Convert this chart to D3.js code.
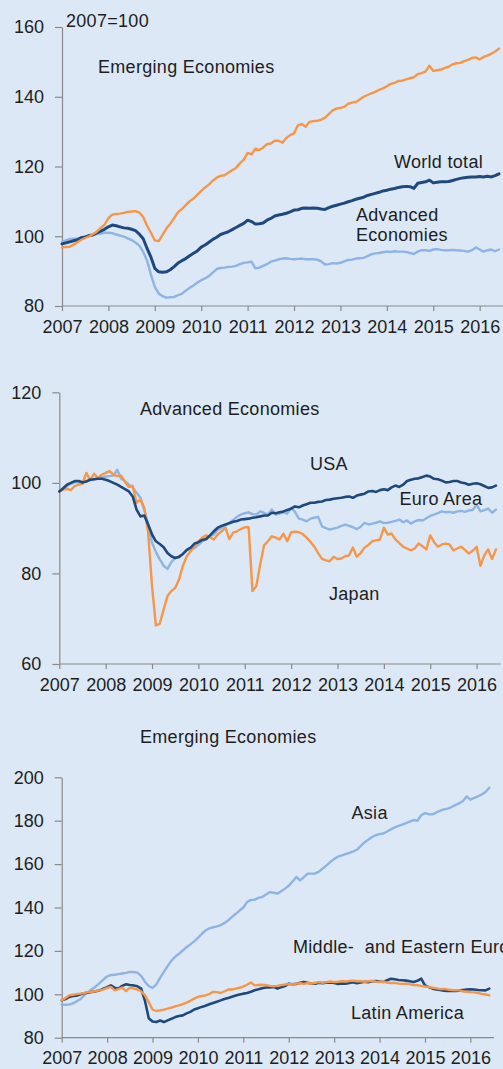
<!DOCTYPE html>
<html>
<head>
<meta charset="utf-8">
<script src="https://cdn.jsdelivr.net/npm/d3@7"></script>
<style>
  html, body { margin: 0; padding: 0; background: #DCE8F6; }
  svg { display: block; }
  text { font-family: "Liberation Sans", Arial, sans-serif; fill: #1e1e1e; }
</style>
</head>
<body>
<svg id="chart" width="503" height="1069"></svg>
<script>
// ---------- Data (monthly, Jan 2007 – Jun 2016, 2007 = 100) ----------
const startYear = 2007;
const yearTicks = [2007, 2008, 2009, 2010, 2011, 2012, 2013, 2014, 2015, 2016];

// Panel 1: World
const emergingTotal = [
  96.8, 96.9, 97.0, 97.6, 98.3, 99.0, 99.5, 100.0, 100.6, 101.3, 102.3, 103.3,
  105.2, 106.2, 106.4, 106.5, 106.7, 107.0, 107.1, 107.2, 106.8, 105.5, 103.0, 101.0,
  98.8, 98.6, 100.4, 102.2, 103.6, 105.2, 106.9, 107.8, 108.9, 110.0, 110.8, 111.9,
  113.0, 114.0, 114.8, 116.0, 116.8, 117.3, 117.5, 118.2, 118.9, 119.6, 120.9, 122.0,
  123.9, 123.5, 125.1, 124.7, 125.4, 126.4, 126.6, 127.4, 127.4, 126.8, 128.2, 129.0,
  129.5, 131.8, 132.2, 131.4, 132.8, 133.0, 133.1, 133.4, 134.0, 135.0, 136.1, 136.6,
  136.8, 137.1, 138.0, 138.3, 138.5, 139.2, 140.0, 140.5, 141.0, 141.4, 142.0, 142.4,
  143.0, 143.7, 144.0, 144.5, 144.6, 145.0, 145.3, 145.6, 146.5, 146.8, 147.2, 148.9,
  147.4, 147.6, 147.8, 148.3, 148.6, 149.3, 149.6, 149.7, 150.2, 150.6, 151.1, 151.3,
  150.7, 151.4, 151.8, 152.3, 153.0, 153.8
];
const worldTotal = [
  97.8, 98.1, 98.4, 98.7, 99.0, 99.6, 99.8, 100.2, 100.4, 101.0, 101.5, 102.0,
  102.7, 103.2, 103.0, 102.7, 102.4, 102.3, 102.0, 101.6, 100.6, 99.3, 96.5, 94.0,
  90.8, 89.8, 89.7, 89.8, 90.4, 91.3, 92.3, 93.0, 93.6, 94.4, 95.1, 95.8,
  96.9, 97.5, 98.3, 99.1, 99.7, 100.5, 100.9, 101.3, 101.9, 102.5, 103.1, 103.7,
  104.6, 104.2, 103.5, 103.6, 103.8, 104.6, 105.1, 105.8, 106.1, 106.3, 106.6, 107.0,
  107.5, 107.6, 108.0, 108.1, 108.0, 108.1, 108.0, 107.8, 107.7, 108.2, 108.6, 108.9,
  109.2, 109.5, 109.9, 110.2, 110.6, 110.9, 111.2, 111.7, 112.0, 112.3, 112.6, 113.0,
  113.2, 113.5, 113.7, 114.0, 114.2, 114.3, 114.2, 113.7, 115.2, 115.4, 115.6, 116.1,
  115.3, 115.5, 115.6, 115.6, 115.7, 116.0, 116.3, 116.6, 116.8, 116.9, 117.0, 117.0,
  117.1, 117.0, 117.2, 117.0, 117.4, 117.9
];
const advancedTotal = [
  98.4, 98.8, 99.2, 99.3, 99.4, 99.6, 99.8, 100.1, 100.3, 100.6, 100.8, 101.0,
  101.0, 100.9, 100.5, 100.2, 99.9, 99.4, 98.9, 98.2, 97.3, 95.5, 93.0, 89.0,
  85.5, 83.6, 82.8, 82.4, 82.5, 82.6, 83.1, 83.5, 84.4, 85.2, 85.9, 86.7,
  87.4, 87.9, 88.6, 89.6, 90.6, 90.9, 91.0, 91.2, 91.3, 91.5, 92.0, 92.4,
  92.5, 92.7, 90.8, 91.0, 91.5, 92.0, 92.7, 93.0, 93.4, 93.6, 93.7, 93.5,
  93.4, 93.5, 93.6, 93.4, 93.4, 93.4, 93.3, 92.8, 91.9, 92.0, 92.3, 92.2,
  92.4, 92.8, 93.2, 93.3, 93.6, 93.7, 93.8, 94.3, 94.8, 95.1, 95.2, 95.4,
  95.6, 95.5, 95.7, 95.6, 95.6, 95.5, 95.2, 94.9, 95.6, 96.0, 96.0, 95.8,
  96.2, 96.3, 96.1, 96.0, 96.0, 96.1, 96.0, 95.9, 95.8, 95.6, 96.0, 96.8,
  96.2, 95.6, 96.0, 96.2, 95.7, 96.2
];

// Panel 2: Advanced Economies
const usa = [
  98.1, 98.8, 99.6, 100.0, 100.4, 100.4, 100.1, 100.3, 100.7, 100.8, 100.9, 100.9,
  100.7, 100.4, 100.0, 99.6, 99.1, 98.6, 98.1, 97.0, 94.1, 92.6, 92.8, 90.8,
  88.6, 87.1, 86.5, 85.8, 84.5, 83.8, 83.4, 83.7, 84.3, 85.2, 85.7, 86.6,
  86.9, 87.4, 87.6, 88.4, 89.3, 90.1, 90.5, 90.8, 91.1, 91.4, 91.6, 91.9,
  92.0, 92.1, 92.3, 92.4, 92.6, 92.8, 92.8, 93.4, 93.3, 93.5, 93.7, 94.0,
  94.3, 94.8, 94.6, 95.0, 95.3, 95.6, 95.6, 95.8, 95.9, 96.2, 96.3, 96.5,
  96.6, 96.7, 96.9, 97.0, 96.7, 97.2, 97.4, 97.6, 98.1, 98.2, 98.0, 98.4,
  98.6, 98.4, 99.0, 99.4, 99.1, 99.6, 100.4, 100.7, 100.9, 101.0, 101.3, 101.6,
  101.4, 100.9, 100.8, 100.5, 100.1, 100.2, 100.4, 100.4, 100.1, 99.9, 99.6, 99.8,
  99.9, 99.7, 99.3, 98.9, 99.0, 99.4
];
const euroArea = [
  98.1, 98.7, 99.3, 99.8, 100.1, 100.2, 100.3, 100.4, 100.6, 100.8, 101.0, 101.2,
  101.4, 101.5, 101.6, 102.9, 100.9, 100.4, 99.6, 99.0, 97.8, 96.7, 94.0, 90.8,
  86.8, 84.7, 83.1, 81.7, 81.0, 82.5, 83.4, 83.5, 84.3, 85.1, 85.3, 85.6,
  86.3, 87.1, 87.5, 88.2, 88.6, 89.6, 90.1, 90.6, 91.2, 91.8, 92.5, 93.0,
  93.3, 93.5, 93.1, 93.0, 93.7, 93.4, 93.0, 94.1, 93.0, 93.2, 93.5, 93.2,
  94.5, 93.6, 92.1, 91.9, 91.5, 92.1, 92.3, 92.5, 90.4, 90.0, 89.7, 89.9,
  90.1, 90.5, 90.8, 90.5, 90.2, 89.8, 90.3, 91.2, 90.8, 91.0, 91.2, 91.5,
  91.1, 91.2, 91.4, 91.6, 91.9, 91.3, 91.7, 91.0, 91.5, 91.8, 91.7, 92.2,
  92.7, 93.0, 93.3, 93.7, 93.5, 93.6, 93.4, 93.7, 93.8, 93.6, 93.9, 94.0,
  95.2, 93.7, 94.0, 94.3, 93.4, 94.1
];
const japan = [
  98.1, 98.5, 98.7, 98.4, 99.3, 99.6, 99.8, 102.2, 100.6, 102.0, 101.1, 101.8,
  102.2, 102.6, 101.8, 101.5, 101.6, 100.2, 99.1, 99.3, 95.6, 96.3, 94.5, 89.0,
  77.2, 68.5, 68.9, 72.0, 75.0, 76.1, 76.8, 78.7, 81.7, 83.8, 84.9, 86.0,
  87.1, 87.9, 88.4, 88.0, 87.5, 88.6, 89.3, 90.1, 87.6, 89.0, 89.3, 89.8,
  90.2, 90.2, 76.1, 77.2, 82.0, 86.2, 87.1, 88.2, 87.9, 87.5, 88.8, 87.1,
  89.1, 89.2, 89.1, 88.7, 87.9, 87.0, 85.9, 84.5, 83.2, 82.9, 82.7, 83.7,
  83.2, 83.3, 83.8, 84.0, 85.7, 83.7, 84.5, 85.7, 86.3, 87.1, 87.3, 87.5,
  90.1, 88.6, 88.8, 87.5, 86.7, 85.9, 85.5, 85.1, 85.5, 86.6, 86.0, 85.3,
  88.4, 86.9, 85.9, 86.4, 86.6, 86.4, 85.1, 85.5, 85.9, 85.2, 84.4, 85.0,
  85.9, 81.7, 84.0, 85.3, 83.2, 85.3
];

// Panel 3: Emerging Economies
const asia = [
  95.2, 95.2, 95.3, 95.8, 96.8, 97.8, 99.6, 101.0, 102.3, 103.6, 105.2, 106.8,
  108.2, 108.9, 109.0, 109.3, 109.6, 109.9, 110.3, 110.3, 110.0, 108.5, 105.8, 103.8,
  102.9, 104.6, 107.6, 110.3, 113.0, 115.5, 117.3, 118.7, 120.2, 121.7, 123.0, 124.4,
  126.0, 127.8, 129.4, 130.4, 130.9, 131.3, 131.9, 132.8, 134.1, 135.7, 137.1, 138.6,
  140.0, 142.5, 143.5, 143.6, 144.4, 144.9, 146.0, 147.1, 146.8, 146.4, 147.5, 148.7,
  150.0, 152.0, 154.1, 152.5, 154.0, 155.6, 155.6, 155.7, 156.5, 158.0, 159.4, 161.0,
  162.4, 163.4, 164.0, 164.6, 165.2, 165.8, 166.6, 168.3, 170.0, 171.2, 172.5, 173.3,
  173.8, 174.1, 175.0, 176.0, 176.9, 177.6, 178.2, 178.9, 179.6, 180.3, 180.0, 182.5,
  183.5, 183.0, 182.9, 183.8, 184.6, 185.2, 185.6, 186.3, 187.2, 188.0, 189.0, 191.2,
  189.7, 190.5, 191.2, 192.1, 193.2, 195.2
];
const middleEasternEurope = [
  97.2, 97.8, 98.8, 99.2, 99.4, 100.0, 100.5, 100.8, 101.1, 101.4, 101.8, 102.6,
  103.3, 104.1, 103.0, 102.6, 103.9, 104.6, 104.3, 104.1, 103.7, 102.6, 97.0, 89.0,
  87.5, 87.2, 87.9, 87.2, 88.0, 88.7, 89.5, 90.0, 90.3, 91.2, 91.9, 93.0,
  93.6, 94.2, 94.7, 95.4, 96.0, 96.6, 97.2, 97.8, 98.3, 98.9, 99.4, 99.9,
  100.3, 100.6, 101.2, 101.9, 102.3, 102.8, 103.1, 103.2, 103.4, 102.6, 103.3, 103.8,
  104.9, 104.6, 104.8, 105.3, 105.7, 105.3, 105.0, 104.9, 105.3, 105.1, 105.5, 105.4,
  105.2, 104.8, 105.0, 104.9, 105.2, 105.6, 105.1, 105.4, 105.8, 105.6, 106.0, 106.1,
  105.9, 105.7, 106.5, 107.2, 106.9, 106.6, 106.5, 106.3, 106.0, 105.7, 106.2, 107.2,
  104.1, 103.3, 102.6, 102.2, 102.0, 101.7, 101.5, 101.6, 101.5, 101.7, 102.0, 102.2,
  102.3, 102.2, 102.0, 101.9, 101.8, 102.6
];
const latinAmerica = [
  97.2, 98.3, 99.5, 99.8, 100.1, 100.3, 100.6, 101.1, 101.2, 101.5, 101.8, 102.3,
  102.9, 103.4, 101.8, 102.4, 103.1, 101.5, 103.1, 102.6, 102.2, 101.4, 99.5, 96.4,
  93.0, 92.3, 92.6, 92.9, 93.4, 93.9, 94.4, 94.9, 95.5, 96.2, 97.0, 98.0,
  98.8, 99.2, 99.5, 100.1, 101.1, 101.0, 100.6, 101.3, 102.2, 102.2, 102.6, 103.0,
  103.7, 104.4, 105.4, 104.1, 104.3, 104.4, 104.2, 103.9, 103.7, 103.9, 104.2, 104.5,
  104.7, 104.6, 104.9, 105.1, 104.8, 105.2, 105.0, 105.3, 105.6, 105.3, 105.6, 105.9,
  105.6, 105.8, 106.1, 105.9, 106.1, 106.3, 106.0, 106.1, 105.8, 106.0, 106.2, 105.8,
  105.7, 105.9, 105.4, 105.2, 105.3, 104.9, 104.8, 104.9, 104.6, 104.3, 104.2, 103.9,
  103.6, 103.4, 103.0, 102.7, 102.4, 102.5, 102.2, 102.0, 101.9, 101.8, 101.4, 101.2,
  101.0, 100.9, 100.6, 100.2, 99.9, 99.5
];

// Colours
const ORANGE = "#F79646";
const DARK = "#1F497D";
const LIGHT = "#8DB4E2";

// ---------- Panels ----------
const panels = [
  {
    x0: 62, x1: 503.8, yTop: 27, yBot: 306,
    yDomain: [80, 160], yTicks: [80, 100, 120, 140, 160],
    series: [
      { values: advancedTotal, color: LIGHT, width: 2.4 },
      { values: worldTotal, color: DARK, width: 3 },
      { values: emergingTotal, color: ORANGE, width: 2.4 }
    ],
    labels: [
      { text: "2007=100", x: 66, y: 27 },
      { text: "Emerging Economies", x: 98, y: 73 },
      { text: "World total", x: 394, y: 168 },
      { text: "Advanced", x: 356, y: 221 },
      { text: "Economies", x: 356, y: 240.5 }
    ]
  },
  {
    x0: 59.3, x1: 500.7, yTop: 392.3, yBot: 664,
    yDomain: [60, 120], yTicks: [60, 80, 100, 120],
    series: [
      { values: euroArea, color: LIGHT, width: 2.4 },
      { values: japan, color: ORANGE, width: 2.4 },
      { values: usa, color: DARK, width: 2.6 }
    ],
    labels: [
      { text: "Advanced Economies", x: 140, y: 415 },
      { text: "USA", x: 310, y: 470 },
      { text: "Euro Area", x: 399.5, y: 504.5 },
      { text: "Japan", x: 329, y: 600 }
    ]
  },
  {
    x0: 61.7, x1: 494, yTop: 777.3, yBot: 1037.7,
    yDomain: [80, 200], yTicks: [80, 100, 120, 140, 160, 180, 200],
    series: [
      { values: asia, color: LIGHT, width: 2.4 },
      { values: middleEasternEurope, color: DARK, width: 2.6 },
      { values: latinAmerica, color: ORANGE, width: 2.4 }
    ],
    labels: [
      { text: "Emerging Economies", x: 140, y: 743 },
      { text: "Asia", x: 351.5, y: 819 },
      { text: "Middle-  and Eastern Europe", x: 293, y: 953 },
      { text: "Latin America", x: 351, y: 1019 }
    ]
  }
];

const svg = d3.select("#chart");
svg.append("rect").attr("width", 503).attr("height", 1069).attr("fill", "#DCE8F6");

const nMonths = 114;

panels.forEach(p => {
  const x = d3.scaleLinear()
    .domain([startYear, startYear + 9.5])
    .range([p.x0, p.x0 + (p.x1 - p.x0) * (9.5 / 9.52)]);
  const y = d3.scaleLinear().domain(p.yDomain).range([p.yBot, p.yTop]);
  const g = svg.append("g");

  // x axis
  const xAxis = g.append("g")
    .attr("transform", `translate(0,${p.yBot})`)
    .call(d3.axisBottom(x).tickValues(yearTicks).tickFormat(d3.format("d"))
      .tickSize(5).tickSizeOuter(0).tickPadding(9));
  xAxis.select(".domain").attr("stroke", "#8a8a8a").attr("stroke-width", 1.2)
    .attr("d", `M${p.x0},0H${p.x1}`);
  xAxis.selectAll(".tick line").attr("stroke", "#8a8a8a").attr("stroke-width", 1.2);
  xAxis.selectAll(".tick text")
    .attr("font-size", 18).attr("fill", "#1e1e1e")
    .style("font-family", '"Liberation Sans", Arial, sans-serif');

  // y axis
  const yAxis = g.append("g")
    .attr("transform", `translate(${p.x0},0)`)
    .call(d3.axisLeft(y).tickValues(p.yTicks).tickFormat(d3.format("d"))
      .tickSize(7).tickSizeOuter(0).tickPadding(11));
  yAxis.select(".domain").attr("stroke", "#8a8a8a").attr("stroke-width", 1.2);
  yAxis.selectAll(".tick line").attr("stroke", "#8a8a8a").attr("stroke-width", 1.2);
  yAxis.selectAll(".tick text")
    .attr("font-size", 18).attr("fill", "#1e1e1e")
    .style("font-family", '"Liberation Sans", Arial, sans-serif');

  // lines
  const line = d3.line()
    .x((d, i) => x(startYear + i / 12))
    .y(d => y(d));
  p.series.forEach(s => {
    g.append("path")
      .datum(s.values.slice(0, nMonths))
      .attr("fill", "none")
      .attr("stroke", s.color)
      .attr("stroke-width", s.width)
      .attr("stroke-linejoin", "round")
      .attr("stroke-linecap", "round")
      .attr("d", line);
  });

  // annotations
  p.labels.forEach(l => {
    g.append("text")
      .attr("x", l.x).attr("y", l.y)
      .attr("font-size", 18)
      .attr("letter-spacing", 0.3)
      .attr("xml:space", "preserve")
      .style("white-space", "pre")
      .text(l.text);
  });
});
</script>
</body>
</html>
